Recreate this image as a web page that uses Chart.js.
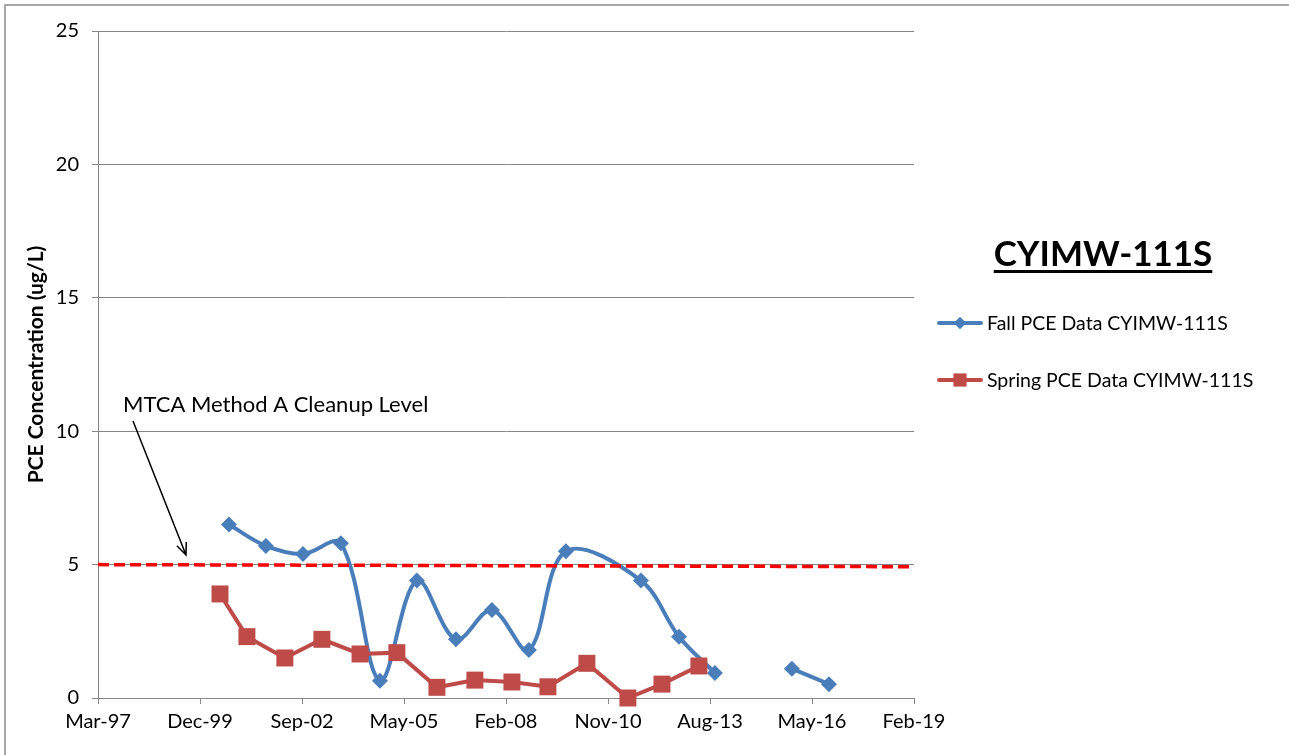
<!DOCTYPE html>
<html>
<head>
<meta charset="utf-8">
<script src="https://cdn.jsdelivr.net/npm/chart.js@4.4.1/dist/chart.umd.min.js"></script>
<style>
  html, body { margin: 0; padding: 0; background: #ffffff; }
  #wrap { width: 1289px; height: 755px; position: relative; }
</style>
</head>
<body>
<div id="wrap"><canvas id="chartPCE" width="1289" height="755"></canvas></div>
<script>
// sample dates and PCE results (ug/L)
const fallDates = ['2000-09-15', '2001-09-12', '2002-09-10', '2003-09-17', '2004-10-04', '2005-10-01',
    '2006-10-19', '2007-10-07', '2008-10-03', '2009-10-01', '2011-10-07', '2012-10-14', '2013-10-01',
    '2014-10-15', '2015-10-26', '2016-10-23'];
const fallPCE = [6.5, 5.7, 5.4, 5.8, 0.65, 4.4, 2.2, 3.3, 1.8, 5.5, 4.4, 2.3, 0.94, null, 1.1, 0.52];

const springDates = ['2000-06-19', '2001-03-10', '2002-03-17', '2003-03-15', '2004-03-23', '2005-03-19',
    '2006-04-16', '2007-04-23', '2008-04-20', '2009-04-08', '2010-04-25', '2011-06-01', '2012-04-30',
    '2013-04-27'];
const springPCE = [3.9, 2.3, 1.5, 2.2, 1.65, 1.7, 0.4, 0.67, 0.6, 0.42, 1.3, 0.0, 0.52, 1.2];

// cleanup level line
const mtcaDates = ['1997-03-11', '2019-02-05'];
const mtcaLevel = [5.0, 4.92];

// x axis in excel serial days
const xMin = 35500, xMax = 43500, xStep = 1000;
const yMin = 0, yMax = 25, yStep = 5;

const MESES = ['Jan', 'Feb', 'Mar', 'Apr', 'May', 'Jun', 'Jul', 'Aug', 'Sep', 'Oct', 'Nov', 'Dec'];
const FUENTE = 'Lato, "Open Sans", "DejaVu Sans", sans-serif';

function toSerial(s) {
    let p = s.split('-');
    return (Date.UTC(+p[0], +p[1] - 1, +p[2]) - Date.UTC(1899, 11, 30)) / 86400000;
}

function serialLabel(v) {
    let d = new Date(Date.UTC(1899, 11, 30) + v * 86400000);
    return MESES[d.getUTCMonth()] + '-' + String(d.getUTCFullYear()).slice(2);
}

function puntos(fechas, valores) {
    return fechas.map(function (f, i) { return { x: toSerial(f), y: valores[i] }; });
}

const extrasPlugin = {
    id: 'extras',
    afterDraw: function (chart) {
        let ctx = chart.ctx;
        ctx.save();

        // outer border
        ctx.strokeStyle = '#8c8c8c';
        ctx.lineWidth = 1.5;
        ctx.strokeRect(5, 5, 1300, 760);

        // annotation
        ctx.fillStyle = '#000';
        ctx.font = '22px ' + FUENTE;
        ctx.textBaseline = 'middle';
        ctx.textAlign = 'left';
        ctx.fillText('MTCA Method A Cleanup Level', 123, 405);

        ctx.strokeStyle = '#000';
        ctx.lineWidth = 1.5;
        let x1 = 133, y1 = 421, x2 = 186, y2 = 555;
        ctx.beginPath();
        ctx.moveTo(x1, y1);
        ctx.lineTo(x2, y2);
        let ang = Math.atan2(y2 - y1, x2 - x1);
        ctx.moveTo(x2 - 13 * Math.cos(ang - 0.4), y2 - 13 * Math.sin(ang - 0.4));
        ctx.lineTo(x2, y2);
        ctx.lineTo(x2 - 13 * Math.cos(ang + 0.4), y2 - 13 * Math.sin(ang + 0.4));
        ctx.stroke();

        // title
        ctx.font = 'bold 35px ' + FUENTE;
        ctx.textAlign = 'center';
        ctx.textBaseline = 'alphabetic';
        ctx.fillText('CYIMW-111S', 1103, 266);
        let w = ctx.measureText('CYIMW-111S').width;
        ctx.fillRect(1103 - w / 2, 270, w, 3);

        // legend
        let items = [
            { y: 323, color: '#4a7ebb', estilo: 'rectRot', r: 6, text: 'Fall PCE Data CYIMW-111S' },
            { y: 380, color: '#be4b48', estilo: 'rect', r: 9, text: 'Spring PCE Data CYIMW-111S' }
        ];
        ctx.font = '19.5px ' + FUENTE;
        ctx.textAlign = 'left';
        ctx.textBaseline = 'middle';
        items.forEach(function (it) {
            ctx.strokeStyle = it.color;
            ctx.fillStyle = it.color;
            ctx.lineWidth = 4;
            ctx.lineCap = 'round';
            ctx.beginPath();
            ctx.moveTo(939, it.y);
            ctx.lineTo(981, it.y);
            ctx.stroke();
            Chart.helpers.drawPoint(ctx, { pointStyle: it.estilo, radius: it.r, borderWidth: 0 }, 960, it.y);
            ctx.fill();
            ctx.fillStyle = '#000';
            ctx.fillText(it.text, 987, it.y + 1);
        });

        ctx.restore();
    }
};

new Chart(document.getElementById('chartPCE').getContext('2d'), {
    type: 'line',
    data: {
        datasets: [{
            label: 'MTCA Method A Cleanup Level',
            data: puntos(mtcaDates, mtcaLevel),
            borderColor: '#ff0000',
            borderWidth: 3.5,
            borderDash: [11, 5],
            pointRadius: 0,
            tension: 0,
            clip: false,
            order: 0
        },
        {
            label: 'Fall PCE Data CYIMW-111S',
            data: puntos(fallDates, fallPCE),
            borderColor: '#4a7ebb',
            backgroundColor: '#4a7ebb',
            borderWidth: 4,
            pointStyle: 'rectRot',
            pointRadius: 8,
            pointBorderWidth: 0,
            tension: 0.35,
            spanGaps: false,
            clip: false,
            order: 2
        },
        {
            label: 'Spring PCE Data CYIMW-111S',
            data: puntos(springDates, springPCE),
            borderColor: '#be4b48',
            backgroundColor: '#be4b48',
            borderWidth: 4,
            pointStyle: 'rect',
            pointRadius: 12,
            pointBorderWidth: 0,
            tension: 0,
            clip: false,
            order: 1
        }]
    },
    options: {
        responsive: false,
        animation: false,
        layout: { padding: { top: 31, right: 375, left: 0, bottom: 0 } },
        plugins: {
            legend: { display: false },
            tooltip: { enabled: false }
        },
        scales: {
            x: {
                type: 'linear',
                min: xMin,
                max: xMax,
                afterFit: function (scale) { scale.height = 57; },
                afterBuildTicks: function (scale) {
                    let t = [];
                    for (let v = xMin; v <= xMax; v += xStep) t.push({ value: v });
                    scale.ticks = t;
                },
                ticks: {
                    callback: function (v) { return serialLabel(v); },
                    color: '#000',
                    font: { family: FUENTE, size: 20 },
                    padding: 6,
                    maxRotation: 0,
                    autoSkip: false
                },
                grid: { drawOnChartArea: false, color: '#868686', tickLength: 6 },
                border: { color: '#868686' }
            },
            y: {
                min: yMin,
                max: yMax,
                afterFit: function (scale) { scale.width = 98; },
                ticks: {
                    stepSize: yStep,
                    color: '#000',
                    font: { family: FUENTE, size: 20 },
                    padding: 13
                },
                grid: { color: '#868686', tickLength: 6 },
                border: { color: '#868686' },
                title: {
                    display: true,
                    text: 'PCE Concentration (ug/L)',
                    color: '#000',
                    font: { family: FUENTE, size: 21, weight: 'bold' },
                    padding: { top: 24, bottom: 0 }
                }
            }
        }
    },
    plugins: [extrasPlugin]
});
</script>
</body>
</html>
